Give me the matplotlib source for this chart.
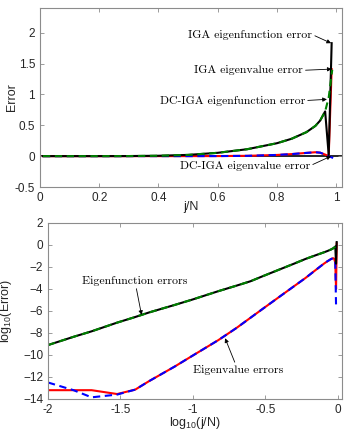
import numpy as np
import matplotlib
matplotlib.use('Agg')
import matplotlib.pyplot as plt

plt.rcParams['font.family'] = 'Liberation Sans'
plt.rcParams['mathtext.fontset'] = 'custom'
plt.rcParams['mathtext.rm'] = 'Liberation Sans'
plt.rcParams['mathtext.it'] = 'Liberation Sans'

# j/N sample points of the smooth part of the spectrum
jN = [0.01, 0.015, 0.02, 0.03, 0.04, 0.05, 0.075, 0.1, 0.15, 0.2, 0.25, 0.3,
      0.4, 0.5, 0.6, 0.7, 0.8, 0.85, 0.9, 0.93, 0.946, 0.963]

# log10 of the errors
efun_log = [-9.10, -8.35, -7.85, -7.06, -6.55, -6.13, -5.45, -4.95, -4.20, -3.70,
            -3.30, -2.87, -2.21, -1.70, -1.27, -0.95, -0.68, -0.55, -0.41, -0.31,
            -0.24, -0.14]
eval_iga_log = [-13.2, -13.2, -13.2, -13.55, -13.15, -12.37, -11.05, -10.05, -8.65,
                -7.55, -6.62, -5.86, -4.67, -3.75, -3.0, -2.31, -1.72, -1.48, -1.28,
                -1.2, -1.25, -1.6]
eval_dc_log = [-12.5, -13.2, -13.85, -13.6, -13.15, -12.37, -11.05, -10.05, -8.65,
               -7.55, -6.62, -5.86, -4.67, -3.75, -3.0, -2.31, -1.72, -1.48, -1.28,
               -1.2, -1.25, -1.6]

# outlier modes at the end of the spectrum (linear errors)
iga_efun_tail_x = [0.975, 0.985]
iga_efun_tail = [0.02, 1.83]
dc_efun_tail_x = [0.975, 0.987]
dc_efun_tail = [0.95, 1.40]
iga_eval_tail_x = [0.975, 0.985]
iga_eval_tail = [1e-4, 1.41]
dc_eval_tail_x = [0.975, 0.99]
dc_eval_tail = [3e-6, -0.03]

jN = np.array(jN)
efun = 10 ** np.array(efun_log)
eval_iga = 10 ** np.array(eval_iga_log)
eval_dc = 10 ** np.array(eval_dc_log)

x_iga_f = np.concatenate([jN, iga_efun_tail_x])
y_iga_f = np.concatenate([efun, iga_efun_tail])
x_dc_f = np.concatenate([jN, dc_efun_tail_x])
y_dc_f = np.concatenate([efun, dc_efun_tail])
x_iga_v = np.concatenate([jN, iga_eval_tail_x])
y_iga_v = np.concatenate([eval_iga, iga_eval_tail])
x_dc_v = np.concatenate([jN, dc_eval_tail_x])
y_dc_v = np.concatenate([eval_dc, dc_eval_tail])

green = '#008000'
lw = 1.5
edge = '#8c8c8c'
txt = '#262626'


def style_axes(ax):
    for s in ax.spines.values():
        s.set_color(edge)
        s.set_linewidth(0.8)
    ax.tick_params(direction='in', length=3, width=0.6, color=edge,
                   labelsize=8.5, labelcolor=txt, top=True, right=True)


def draw_lines(ax, f):
    ax.plot(f(x_iga_v), f(y_iga_v), '-', color='r', lw=lw)
    ax.plot(f(x_dc_v), f(y_dc_v), '--', color='b', lw=lw, dashes=(3.5, 2.2))
    ax.plot(f(x_iga_f), f(y_iga_f), '-', color='k', lw=lw)
    ax.plot(f(x_dc_f), f(y_dc_f), '--', color=green, lw=lw, dashes=(3.5, 2.2))


fig = plt.figure(figsize=(3.5, 4.36), dpi=100)

# ---- linear panel
ax1 = fig.add_axes([0.1143, 0.5711, 0.8629, 0.4106])
draw_lines(ax1, lambda v: v)
ax1.axhline(0, color='k', lw=1.2, zorder=1)
ax1.set_xlim(0, 1.02)
ax1.set_ylim(-0.5, 2.4)
ax1.set_xticks(np.arange(0, 1.01, 0.2))
ax1.set_xticklabels(['0', '0.2', '0.4', '0.6', '0.8', '1'])
ax1.set_yticks(np.arange(-0.5, 2.01, 0.5))
ax1.set_yticklabels(['-0.5', '0', '0.5', '1', '1.5', '2'])
ax1.set_xlabel('j/N', fontsize=9, color=txt)
ax1.set_ylabel('Error', fontsize=9, color=txt)
ax1.xaxis.set_label_coords(0.5, -0.08)
ax1.yaxis.set_label_coords(-0.073, 0.5)
style_axes(ax1)

arr = dict(arrowstyle='-|>', color='k', lw=0.6, mutation_scale=6,
           shrinkA=0, shrinkB=0)
tkw = dict(fontsize=8.5, family='cmr10', ha='right', va='center')
ax1.annotate('IGA eigenfunction error', xy=(0.983, 1.83), xytext=(0.919, 1.97),
             arrowprops=dict(arr, relpos=(1, 0.5)), **tkw)
ax1.annotate('IGA eigenvalue error', xy=(0.985, 1.41), xytext=(0.8875, 1.39),
             arrowprops=dict(arr, relpos=(1, 0.5)), **tkw)
ax1.annotate('DC-IGA eigenfunction error', xy=(0.969, 0.92), xytext=(0.895, 0.90),
             arrowprops=dict(arr, relpos=(1, 0.5)), **tkw)
ax1.annotate('DC-IGA eigenvalue error', xy=(0.983, 0.0), xytext=(0.912, -0.156),
             arrowprops=dict(arr, relpos=(1, 0.5)), **tkw)

# ---- log-log panel
ax2 = fig.add_axes([0.1371, 0.0849, 0.84, 0.4037])
with np.errstate(invalid='ignore', divide='ignore'):
    draw_lines(ax2, np.log10)
ax2.set_xlim(-2, 0.03)
ax2.set_ylim(-14, 2)
ax2.set_xticks(np.arange(-2, 0.01, 0.5))
ax2.set_xticklabels(['-2', '-1.5', '-1', '-0.5', '0'])
ax2.set_yticks(np.arange(-14, 2.1, 2))
ax2.set_xlabel('log$_{10}$(j/N)', fontsize=9, color=txt)
ax2.set_ylabel('log$_{10}$(Error)', fontsize=9, color=txt)
ax2.xaxis.set_label_coords(0.5, -0.092)
ax2.yaxis.set_label_coords(-0.114, 0.5)
style_axes(ax2)

tkw2 = dict(fontsize=8.5, family='cmr10', ha='center', va='center')
ax2.annotate('Eigenfunction errors', xy=(-1.354, -6.36), xytext=(-1.40, -3.27),
             arrowprops=dict(arr), **tkw2)
ax2.annotate('Eigenvalue errors', xy=(-0.777, -8.48), xytext=(-0.689, -11.36),
             arrowprops=dict(arr), **tkw2)

fig.savefig('out.png', dpi=100)
